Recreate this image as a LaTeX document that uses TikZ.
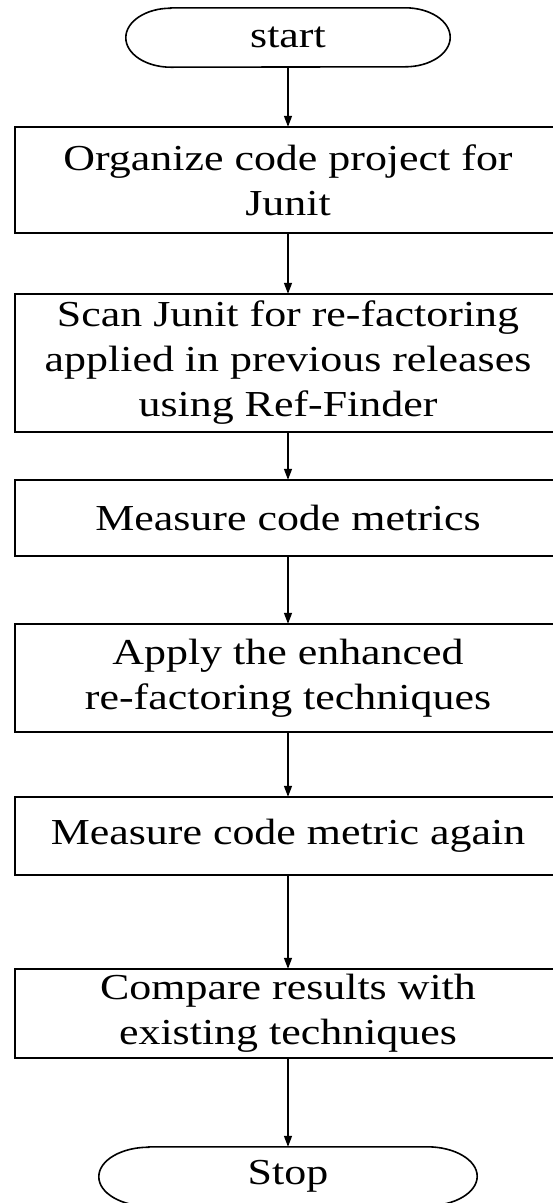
\documentclass[tikz,border=0pt]{standalone}
\usepackage{fontspec}
\setmainfont{Liberation Serif}[FakeStretch=1.2]
\usetikzlibrary{arrows.meta}
\begin{document}
\begin{tikzpicture}[x=1pt,y=1pt,
  txt/.style={font=\fontsize{36.6}{45}\selectfont},
  proc/.style={txt,minimum width=546pt,inner sep=0pt,align=center},
  boxline/.style={line width=1.6pt},
  term/.style={txt,inner sep=0pt,align=center},
  termline/.style={line width=1.6pt},
  conn/.style={line width=1.4pt,-{Triangle[length=11pt,width=8pt]}}]
\useasboundingbox (0,0) rectangle (553,-1203);
\node[term,minimum width=324pt,minimum height=59pt] (start) at (288,-37.5) {start};
\draw[termline] ([xshift=45pt]start.north west) -- ([xshift=-45pt]start.north east)
  arc[start angle=90,end angle=-90,x radius=45pt,y radius=29.5pt]
  -- ([xshift=45pt]start.south west)
  arc[start angle=270,end angle=90,x radius=45pt,y radius=29.5pt] -- cycle;
\node[proc,minimum height=106pt] (b1) at (288,-180) {Organize code project for\\Junit};
\node[proc,minimum height=138pt] (b2) at (288,-363) {Scan Junit for re-factoring\\applied in previous releases\\using Ref-Finder};
\node[proc,minimum height=76pt] (b3) at (288,-518) {Measure code metrics};
\node[proc,minimum height=108pt] (b4) at (288,-678) {Apply the enhanced\\re-factoring techniques};
\node[proc,minimum height=78pt] (b5) at (288,-836) {Measure code metric again};
\node[proc,minimum height=89pt] (b6) at (288,-1013.5) {Compare results with\\existing techniques};
\foreach \b in {b1,b2,b3,b4,b5,b6}
  \draw[boxline] (\b.north west) rectangle ([xshift=60pt]\b.south east);
\node[term,minimum width=378pt,minimum height=59pt] (stop) at (288,-1176.5) {Stop};
\draw[termline] ([xshift=50pt]stop.north west) -- ([xshift=-50pt]stop.north east)
  arc[start angle=90,end angle=-90,x radius=50pt,y radius=29.5pt]
  -- ([xshift=50pt]stop.south west)
  arc[start angle=270,end angle=90,x radius=50pt,y radius=29.5pt] -- cycle;
\draw[conn] (start.south) -- (b1.north);
\draw[conn] (b1.south) -- (b2.north);
\draw[conn] (b2.south) -- (b3.north);
\draw[conn] (b3.south) -- (b4.north);
\draw[conn] (b4.south) -- (b5.north);
\draw[conn] (b5.south) -- (b6.north);
\draw[conn] (b6.south) -- (stop.north);
\end{tikzpicture}
\end{document}
